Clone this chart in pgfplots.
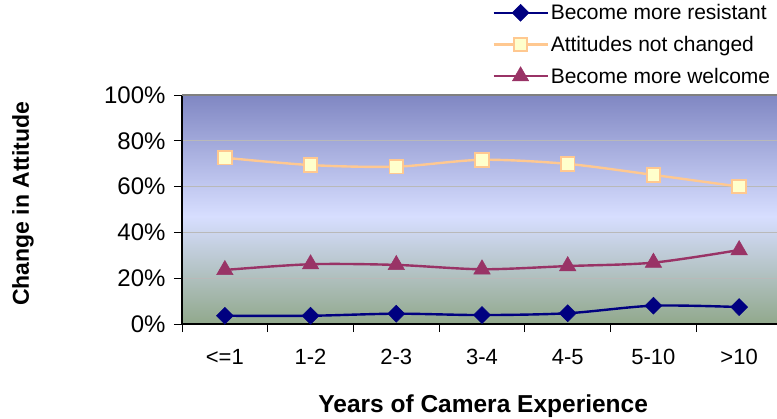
\documentclass[border=0pt]{standalone}
\usepackage{fontspec}
\setmainfont{Liberation Sans}
\usepackage{pgfplots}
\pgfplotsset{compat=1.18}

\definecolor{resist}{HTML}{000080}
\definecolor{samel}{HTML}{FFC890}
\definecolor{samef}{HTML}{FFFFCC}
\definecolor{welcome}{HTML}{993366}
\definecolor{bgtop}{RGB}{128,135,195}
\definecolor{bgmid}{RGB}{215,222,255}
\definecolor{bgbot}{RGB}{145,168,140}
% plot area: light band just below the middle
\pgfdeclareverticalshading{plotbg}{100bp}{color(0bp)=(bgbot); color(25bp)=(bgbot); color(48.5bp)=(bgmid); color(75bp)=(bgtop); color(100bp)=(bgtop)}

\begin{document}
\begin{tikzpicture}
\path[use as bounding box] (0,0) rectangle (777bp,419bp);
\begin{axis}[
  at={(182bp,95bp)}, anchor=south west,
  scale only axis, width=600bp, height=229bp,
  xmin=-0.5, xmax=6.5, ymin=0, ymax=100,
  axis lines=left, axis line style={-, line width=1.2bp, black},
  axis background/.style={shading=plotbg},
  tick align=outside, major tick length=8bp,
  tick style={black, line width=0.8bp},
  xtick={-0.5,0.5,...,5.5}, xticklabels={},
  extra x ticks={0,1,2,3,4,5,6},
  extra x tick labels={<=1,1-2,2-3,3-4,4-5,5-10,>10},
  extra x tick style={major tick length=0pt},
  xticklabel style={font=\fontsize{22bp}{26bp}\selectfont, yshift=-22bp},
  ytick={0,20,...,100},
  yticklabel={\pgfmathprintnumber{\tick}\%},
  yticklabel style={font=\fontsize{24bp}{28bp}\selectfont, xshift=-5bp},
  /pgf/number format/assume math mode=true,
  ymajorgrids, grid style={gray!55, line width=0.6bp},
  xlabel={Years of Camera Experience},
  ylabel={Change in Attitude},
  xlabel style={font=\fontsize{24.5bp}{28bp}\selectfont\bfseries, at={(axis description cs:0.502,-0.36)}, anchor=center},
  ylabel style={font=\fontsize{23bp}{27bp}\selectfont\bfseries, at={(axis description cs:-0.265,0.525)}, anchor=center},
  legend style={at={(axis description cs:0.984,1.405)}, anchor=north east, draw=none, fill=none,
    font=\fontsize{21bp}{24bp}\selectfont, row sep=11bp, inner sep=0pt,
    nodes={inner sep=2bp}},
  legend cell align=left,
  legend image code/.code={\draw[mark repeat=2,mark phase=2,#1] plot coordinates {(0bp,0bp)(27bp,0bp)(54bp,0bp)};},
  every axis plot/.append style={line width=2.4bp, smooth, tension=0.5},
]
\addplot[resist, mark=diamond*, mark size=8.5bp, mark options={solid, fill=resist, xscale=1.33, line width=0.5bp}]
  coordinates {(0,3.6)(1,3.6)(2,4.5)(3,3.9)(4,4.7)(5,8.0)(6,7.4)};
\addlegendentry{Become more resistant}
\addplot[samel, mark=square*, mark size=6.8bp, mark options={solid, fill=samef, draw=samel, line width=1.8bp}]
  coordinates {(0,72.6)(1,69.4)(2,68.7)(3,71.7)(4,69.9)(5,65.1)(6,60.0)};
\addlegendentry{Attitudes not changed}
\addplot[welcome, mark=triangle*, mark size=9.5bp, mark options={solid, fill=welcome, line width=0.5bp}]
  coordinates {(0,23.6)(1,26.1)(2,25.8)(3,23.9)(4,25.3)(5,26.8)(6,32.3)};
\addlegendentry{Become more welcome}
\draw[gray, line width=1.5bp] (rel axis cs:0,1) -- (rel axis cs:1,1);
\end{axis}
\end{tikzpicture}
\end{document}
